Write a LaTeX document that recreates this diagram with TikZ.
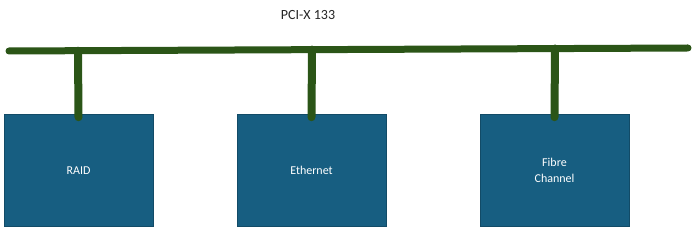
\documentclass[tikz,border=0pt]{standalone}
\usepackage{fontspec}
\setmainfont{Carlito}
\definecolor{busgreen}{HTML}{2B5517}
\definecolor{boxblue}{HTML}{175E81}
\definecolor{labelgrey}{HTML}{262626}
\begin{document}
\begin{tikzpicture}[x=1pt,y=-1pt,
  devbox/.style={draw=boxblue!80!black,line width=0.6pt,fill=boxblue,minimum width=149pt,minimum height=112pt,inner sep=0pt,text=white,font=\fontsize{12}{16}\selectfont,align=center},
  bus/.style={busgreen,line width=7pt,line cap=round},
  stub/.style={busgreen,line width=8pt,line cap=round}]
\useasboundingbox (0,0) rectangle (694,229);
\node[devbox] (raid) at (78.5,170.5) {RAID};
\node[devbox] (eth) at (311.5,170.5) {Ethernet};
\node[devbox] (fc) at (554.5,170.5) {Fibre\\Channel};
\coordinate (busL) at (9,51);
\coordinate (busR) at (688,48);
\coordinate (b1) at (78,50.7);
\coordinate (b2) at (312,49.6);
\coordinate (b3) at (555,48.5);
\draw[stub] (b1) -- ([yshift=-3pt]raid.north);
\draw[stub] (b2) -- ([yshift=-3pt]eth.north);
\draw[stub] (b3) -- ([yshift=-3pt]fc.north);
\draw[bus] (busL) -- (busR);
\node[text=labelgrey,font=\fontsize{14}{16}\selectfont] (pci) at (308,15) {PCI-X 133};
\end{tikzpicture}
\end{document}
